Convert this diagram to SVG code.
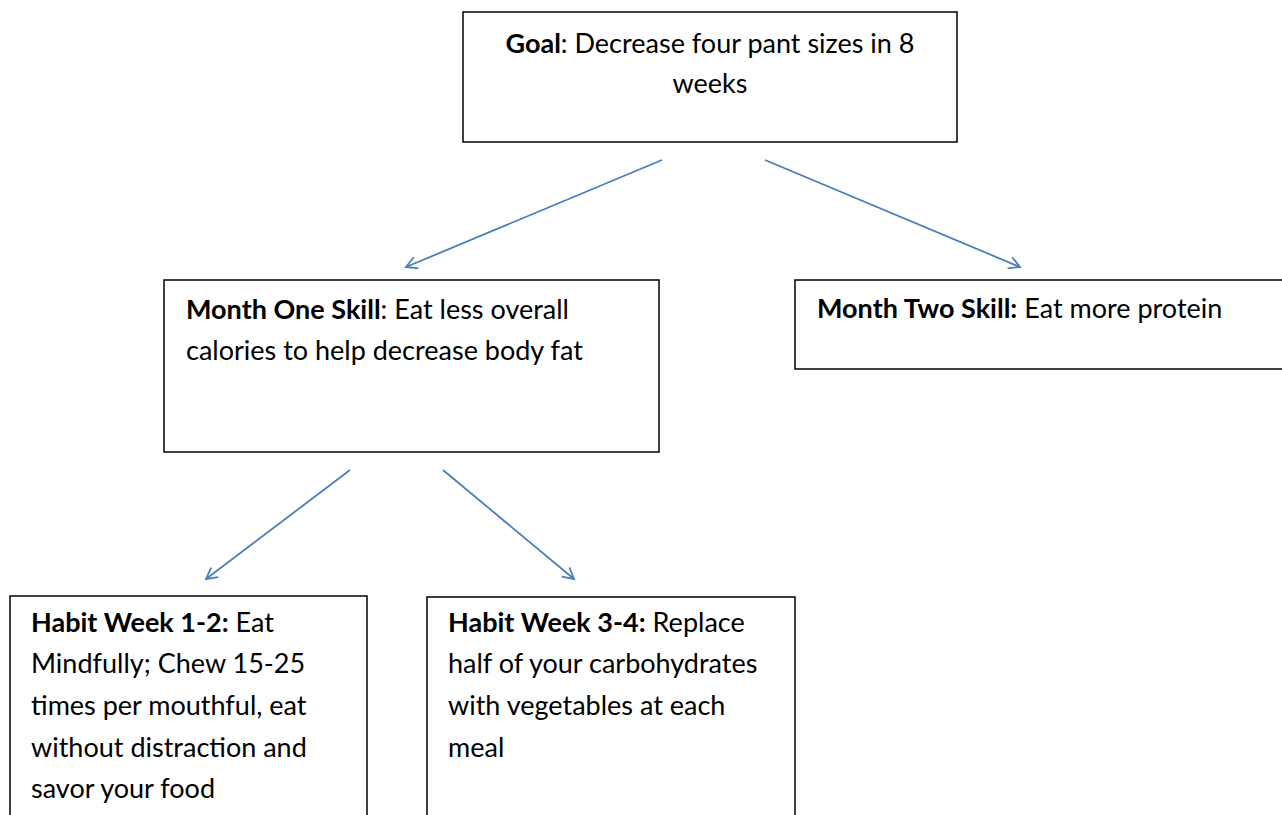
<svg xmlns="http://www.w3.org/2000/svg" width="1282" height="815" viewBox="0 0 1282 815">
<style>
.box{fill:#fff;stroke:#000;stroke-width:1.5}
.t{font-family:Lato,"Open Sans",sans-serif;font-size:27px;fill:#000}
.b{font-weight:bold}
.c{fill:none;stroke:#4a7ebb;stroke-width:1.8}
</style>
<defs>
<marker id="ah" viewBox="0 0 14 14" refX="12" refY="7" markerWidth="14" markerHeight="14" markerUnits="userSpaceOnUse" orient="auto">
<path d="M1,1 L12,7 L1,13" fill="none" stroke="#4a7ebb" stroke-width="1.8"/>
</marker>
</defs>
<rect width="1282" height="815" fill="#fff"/>
<g id="connectors">
<line class="c" x1="662" y1="160" x2="406" y2="267" marker-end="url(#ah)"/>
<line class="c" x1="765" y1="160" x2="1020" y2="267" marker-end="url(#ah)"/>
<line class="c" x1="350" y1="470" x2="206" y2="579" marker-end="url(#ah)"/>
<line class="c" x1="443" y1="470" x2="574" y2="579" marker-end="url(#ah)"/>
</g>
<g id="goal">
<rect class="box" x="463" y="12" width="494" height="130"/>
<text class="t" x="710" y="53" text-anchor="middle"><tspan class="b">Goal</tspan>: Decrease four pant sizes in 8</text>
<text class="t" x="710" y="93" text-anchor="middle">weeks</text>
</g>
<g id="month1">
<rect class="box" x="164" y="280" width="495" height="172"/>
<text class="t" x="186" y="319"><tspan class="b">Month One Skill</tspan>: Eat less overall</text>
<text class="t" x="186" y="360">calories to help decrease body fat</text>
</g>
<g id="month2">
<rect class="box" x="795" y="280" width="500" height="89"/>
<text class="t" x="817" y="318"><tspan class="b">Month Two Skill:</tspan> Eat more protein</text>
</g>
<g id="habit1">
<rect class="box" x="10" y="596" width="357" height="230"/>
<text class="t" x="31" y="632"><tspan class="b">Habit Week 1-2:</tspan>  Eat</text>
<text class="t" x="31" y="673">Mindfully; Chew 15-25</text>
<text class="t" x="31" y="715">times per mouthful, eat</text>
<text class="t" x="31" y="757">without distraction and</text>
<text class="t" x="31" y="798">savor your food</text>
</g>
<g id="habit2">
<rect class="box" x="427" y="597" width="368" height="230"/>
<text class="t" x="448" y="632"><tspan class="b">Habit Week 3-4:</tspan> Replace</text>
<text class="t" x="448" y="673">half of your carbohydrates</text>
<text class="t" x="448" y="715">with vegetables at each</text>
<text class="t" x="448" y="757">meal</text>
</g>
</svg>
